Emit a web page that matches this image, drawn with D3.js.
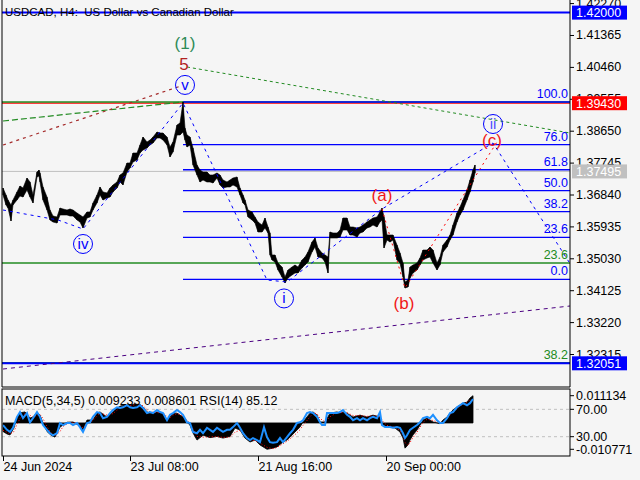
<!DOCTYPE html>
<html><head><meta charset="utf-8">
<script src="https://cdn.jsdelivr.net/npm/d3@7"></script>
<style>
html,body{margin:0;padding:0;background:#f5f5f5;}
svg{display:block;}
.pre{white-space:pre;}
</style></head><body>
<svg id="c" width="640" height="480"></svg>
<script>
// ---------------- DATA ----------------
const title = "USDCAD, H4:  US Dollar vs Canadian Dollar";
const barIdx = [0,3,5,8,10,14,17,20,24,27,30,34,36,37,40,44,47,50,54,57,60,64,67,70,74,77,80,84,87,90,94,97,100,104,107,110,114,117,120,124,127,130,134,137,140,144,147,150,154,157,160,164,167,170,174,177,180,182,184,187,190,194,197,200,204,207,210,214,217,220,224,227,230,234,237,240,242,245,249,252,255,259,262,265,267,269,272,275,279,282,285,289,292,295,299,302,305,309,312,315,319,322,325,327,330,334,337,340,344,347,350,354,357,360,364,367,370,374,377,379,381,384,387,390,394,397,400,402,405,407,410,414,417,420,424,427,430,434,437,440,444,447,450,454,457,460,464,467,470,472];
const highs = [1.37024,1.36826,1.36684,1.36542,1.36684,1.36911,1.37081,1.37024,1.37308,1.37195,1.36826,1.37478,1.37535,1.37450,1.37053,1.36769,1.36400,1.36230,1.36202,1.36457,1.36429,1.36400,1.36429,1.36400,1.36315,1.36258,1.36202,1.36344,1.36344,1.36599,1.36826,1.37053,1.36911,1.36883,1.37024,1.37110,1.37195,1.37393,1.37450,1.37734,1.37734,1.38017,1.38017,1.38244,1.38471,1.38329,1.38386,1.38471,1.38613,1.38585,1.38585,1.38471,1.38188,1.38329,1.38812,1.38868,1.39464,1.38727,1.38528,1.38471,1.38159,1.37677,1.37535,1.37478,1.37478,1.37393,1.37393,1.37450,1.37393,1.37251,1.37195,1.37251,1.37308,1.37337,1.37024,1.36826,1.36684,1.36400,1.36344,1.36202,1.36060,1.35975,1.36173,1.35918,1.35748,1.35124,1.35124,1.34897,1.34783,1.34500,1.34698,1.34783,1.34840,1.34783,1.34982,1.35067,1.35209,1.35492,1.35606,1.35322,1.35180,1.35124,1.35067,1.35776,1.35748,1.35748,1.35833,1.36173,1.36173,1.35918,1.35918,1.35890,1.35918,1.35975,1.36060,1.36117,1.36173,1.36202,1.36344,1.36457,1.36202,1.35691,1.35691,1.35691,1.35407,1.35180,1.34897,1.34358,1.34414,1.34783,1.34840,1.34897,1.35039,1.35265,1.35265,1.35351,1.35265,1.34897,1.35067,1.35407,1.35549,1.35691,1.35975,1.36315,1.36485,1.36684,1.36968,1.37251,1.37535,1.37677];
const lows = [1.36826,1.36542,1.36457,1.36088,1.36542,1.36684,1.36797,1.36769,1.36968,1.36769,1.36599,1.37337,1.37365,1.37195,1.36684,1.36400,1.36117,1.36060,1.36031,1.36258,1.36258,1.36258,1.36230,1.36230,1.36117,1.36060,1.35890,1.36173,1.36202,1.36400,1.36599,1.36826,1.36684,1.36741,1.36769,1.36911,1.37024,1.37195,1.37110,1.37478,1.37592,1.37762,1.37819,1.38017,1.38102,1.38159,1.38244,1.38301,1.38443,1.38443,1.38386,1.38244,1.37904,1.38046,1.38528,1.38528,1.38613,1.38386,1.38188,1.38244,1.37677,1.37393,1.37195,1.37251,1.37195,1.37195,1.37166,1.37308,1.37110,1.37024,1.37053,1.37053,1.37110,1.37053,1.36826,1.36599,1.36542,1.36202,1.36117,1.36031,1.35776,1.35776,1.35890,1.35748,1.35124,1.34982,1.34925,1.34698,1.34500,1.34329,1.34471,1.34556,1.34613,1.34613,1.34755,1.34840,1.34925,1.35209,1.35351,1.35067,1.35039,1.34925,1.34613,1.35606,1.35606,1.35606,1.35634,1.35833,1.35833,1.35691,1.35691,1.35634,1.35748,1.35776,1.35890,1.35918,1.35975,1.35918,1.36060,1.36117,1.35322,1.35549,1.35492,1.35549,1.34982,1.34897,1.34500,1.34187,1.34216,1.34471,1.34613,1.34698,1.34840,1.34982,1.35039,1.35067,1.34897,1.34698,1.34840,1.35209,1.35351,1.35549,1.35691,1.36060,1.36258,1.36400,1.36684,1.36911,1.37195,1.37450];

const priceTicks = [1.42270,1.41365,1.40460,1.39555,1.38650,1.37745,1.36840,1.35935,1.35030,1.34125,1.33220,1.32315];
const dateTickIdx = [0,127,255,383];
const dateTickLabels = ["24 Jun 2024","23 Jul 08:00","21 Aug 16:00","20 Sep 00:00"];

// horizontal price levels with axis labels
const levelPrices = [1.42000, 1.39430, 1.37495, 1.32051];
const levelColors = ["#0000ff", "#ff0000", "#c0c0c0", "#0000ff"];

// Fibonacci (blue) from wave v high to wave i low
const fibLevels = [0, 23.6, 38.2, 50, 61.8, 76, 100];
const fibLabels = ["0.0","23.6","38.2","50.0","61.8","76.0","100.0"];
const fibStartIdx = 180, fibHigh = 1.39464, fibLow = 1.34434;
// Fibonacci (green), larger degree
const fib2Levels = [0, 23.6, 38.2];
const fib2Labels = ["", "23.6", "38.2"];
const fib2Top = 1.39464, fib2Bottom = 1.20112;

// wave lines (bar index, price)
const blueWaveIdx = [0, 55, 80, 180, 264, 284, 379, 490, 566];
const blueWavePrice = [1.36400, 1.36117, 1.35861, 1.39436, 1.34414, 1.34358, 1.36429, 1.38301, 1.34925];
const redWaveIdx = [379, 402, 494];
const redWavePrice = [1.36429, 1.34187, 1.38330];
const brownLineIdx = [0, 178], brownLinePrice = [1.38244, 1.39918];
const greenDashIdx = [0, 180], greenDashPrice = [1.38925, 1.39464];
const greenDotIdx = [184, 567], greenDotPrice = [1.40457, 1.38585];
const purpleIdx = [0, 567], purplePrice = [1.31889, 1.33677];

// wave labels
const circLabels = ["v", "iv", "i", "ii"];
const circIdx = [182, 80, 281, 490];
const circPrice = [1.39948, 1.35436, 1.33891, 1.38840];
const redLabels = ["(a)", "(b)", "(c)"];
const redIdx = [379, 401, 489];
const redPrice = [1.36826, 1.33749, 1.38386];

// MACD / RSI sub window
const macdTitle = "MACD(5,34,5) 0.009233 0.008601 RSI(14) 85.12";
const macdIdx = [0,4,7,11,14,18,22,27,30,34,37,40,44,48,52,57,60,64,70,75,80,84,90,94,97,104,110,114,118,125,132,137,140,144,147,154,160,164,167,170,174,177,180,184,187,190,194,200,207,214,220,227,232,237,242,247,252,257,264,270,274,280,284,287,292,297,300,307,310,314,317,322,327,334,337,340,344,350,357,364,370,377,380,384,392,397,400,402,405,407,410,414,417,420,424,430,437,440,444,447,450,454,457,460,464,467,470];
const macdHist = [-3.5,-4.5,-4.9,-2.0,2.4,4.2,4.5,2.0,2.4,4.4,3.2,0,-3.5,-5.0,-5.8,-1.7,-0.9,0.3,0.4,-0.8,-2.9,1.2,1.2,4.0,4.5,2.4,4.5,6.1,7.0,7.3,7.7,7.5,6.5,4.5,4.0,4.5,4.0,1.2,2.4,4.0,4.0,3.2,2.4,0.3,-0.9,-4.1,-7.0,-5.0,-6.0,-5.5,-6.2,-5.5,-2.1,-2.9,-6.2,-7.8,-7.0,-9.0,-10.77,-10.3,-9.8,-7.8,-7.0,-5.8,-3.7,-1.7,0.4,4.0,4.5,3.2,0.4,0.4,4.0,4.5,4.0,4.5,4.0,2.4,3.2,2.4,3.2,2.4,-0.9,-1.5,-2.1,-3.7,-6.2,-10.3,-9.0,-7.0,-4.9,-2.9,-0.9,1.2,2.0,0.4,-0.3,1.2,2.4,4.0,5.3,6.5,7.3,8.1,8.5,10.2,11.13].map(v => v / 1000);
const macdSignal = [-3.0,-3.8,-4.5,-3.5,-0.5,2.5,3.8,3.2,2.3,3.2,3.5,1.8,-1.5,-4.0,-5.3,-3.5,-1.5,-0.4,0.2,-0.3,-2.0,-0.5,1.0,2.8,4.0,3.2,3.8,5.2,6.4,7.0,7.4,7.5,7.0,5.5,4.5,4.2,4.2,2.5,2.0,3.2,3.8,3.5,2.8,1.2,-0.2,-2.5,-5.5,-5.8,-5.7,-5.6,-5.9,-5.8,-3.8,-3.0,-4.8,-7.0,-7.2,-8.2,-10.0,-10.5,-10.0,-8.5,-7.5,-6.5,-4.8,-2.8,-1.0,2.5,4.0,3.8,1.8,0.5,2.5,4.2,4.2,4.3,4.2,3.0,3.0,2.7,2.9,2.6,0.6,-1.0,-1.8,-3.0,-5.0,-8.0,-9.2,-8.0,-6.0,-3.8,-1.8,0.2,1.5,1.0,0.1,0.5,1.8,3.2,4.6,5.9,6.9,7.7,8.3,9.5,8.6].map(v => v / 1000);
const rsiIdx = [0,4,7,10,14,17,20,24,27,30,34,37,40,44,47,50,54,57,60,64,67,70,74,77,80,84,87,90,94,97,100,104,107,110,114,117,120,124,127,130,134,137,140,144,147,150,154,157,160,164,167,170,174,177,180,184,187,190,194,197,200,204,207,210,214,217,220,224,227,230,234,237,240,244,247,250,254,257,261,264,267,270,274,277,280,284,287,290,294,297,300,304,307,310,314,317,319,322,324,327,330,334,337,340,344,347,350,354,357,360,364,367,370,374,377,379,382,387,390,394,397,400,402,404,407,410,414,417,420,424,427,430,434,437,440,444,447,450,454,457,460,464,467,470];
const rsiValues = [47,40,37,43,59,66,57,64.5,51,57,66,59,47,40,35,32,35,50,47,50,50,47,50,44,37,50,51,59,66,64.5,57,59,64.5,69,73,72,73,76,73,72,73,76,72,64.5,66,64.5,69,66,64.5,54,62,64.5,69,66,62,51,50,37,35,40,35,43,40,37,43,40,37,40,40,44,50,43,35,28,25,28,25,22,44,29.5,22,21,22,28,22,29.5,35,40,50,51,54,64.5,66,64.5,59,51,47,47,64.5,64.5,64.5,64.5,66,69,62,59,54,57,54,57,54,57,59,57,66,47,44,44,43,44,43,35,28,32,40,43,47,51,57,59,57,62,54,50,50,57,64.5,66,73,76,79,76,79,85.12];
const macdAxisTicks = [0.011134, -0.010771];
const macdAxisLabels = ["0.011134", "-0.010771"];
const rsiAxisTicks = [70, 30];
const rsiAxisLabels = ["70.00", "30.00"];

// ---------------- DRAW ----------------
const svg = d3.select("#c");
const FONT = "'Liberation Sans', Arial, sans-serif";
const L = 2, R = 570, B = 387;
const x = d3.scaleLinear().domain([-1, 567]).range([L, R]);
const y = d3.scaleLinear().domain([1.31379, 1.42301]).range([B, 2]);

svg.append("rect").attr("width", 640).attr("height", 480).attr("fill", "#f5f5f5");

const defs = svg.append("defs");
defs.append("clipPath").attr("id", "mainclip").append("rect")
  .attr("x", L).attr("y", 0).attr("width", R - L).attr("height", B);
defs.append("clipPath").attr("id", "subclip").append("rect")
  .attr("x", L).attr("y", 389).attr("width", R - L).attr("height", 67);

const main = svg.append("g").attr("clip-path", "url(#mainclip)");
const hline = (g, p, color, w, x0) => g.append("line")
  .attr("x1", x0 === undefined ? L : x0).attr("x2", R)
  .attr("y1", y(p)).attr("y2", y(p))
  .attr("stroke", color).attr("stroke-width", w);

hline(main, levelPrices[2], levelColors[2], 1);
hline(main, levelPrices[1], levelColors[1], 1.3);
fib2Levels.forEach(l => hline(main, fib2Top - (fib2Top - fib2Bottom) * l / 100, "#228b22", 1.3));
hline(main, levelPrices[0], levelColors[0], 2);
hline(main, levelPrices[3], levelColors[3], 2);
fibLevels.forEach(l => hline(main, fibLow + (fibHigh - fibLow) * l / 100, "#0000ff", 1.3, x(fibStartIdx)));

const lineGen = d3.line().x(d => x(d[0])).y(d => y(d[1]));
const zip = (a, b) => a.map((v, i) => [v, b[i]]);
main.append("path").attr("d", lineGen(zip(greenDashIdx, greenDashPrice)))
  .attr("fill", "none").attr("stroke", "#228b22").attr("stroke-width", 1.2).attr("stroke-dasharray", "6,3");
main.append("path").attr("d", lineGen(zip(brownLineIdx, brownLinePrice)))
  .attr("fill", "none").attr("stroke", "#a52a2a").attr("stroke-width", 1.2).attr("stroke-dasharray", "3,4");
main.append("path").attr("d", lineGen(zip(greenDotIdx, greenDotPrice)))
  .attr("fill", "none").attr("stroke", "#228b22").attr("stroke-width", 1).attr("stroke-dasharray", "3,3");
main.append("path").attr("d", lineGen(zip(purpleIdx, purplePrice)))
  .attr("fill", "none").attr("stroke", "#4b0082").attr("stroke-width", 1).attr("stroke-dasharray", "4,4");

// price bars as high-low band
const bars = barIdx.map((b, i) => ({ b, h: highs[i], l: lows[i] }));
main.append("path")
  .attr("d", d3.area().x(d => x(d.b)).y0(d => y(d.l)).y1(d => y(d.h))(bars))
  .attr("fill", "#000").attr("stroke", "#000").attr("stroke-width", 0.6);
main.selectAll("line.bar").data(bars).join("line").attr("class", "bar")
  .attr("x1", d => x(d.b)).attr("x2", d => x(d.b))
  .attr("y1", d => y(d.h)).attr("y2", d => y(d.l))
  .attr("stroke", "#000").attr("stroke-width", 1);

main.append("path").attr("d", lineGen(zip(blueWaveIdx, blueWavePrice)))
  .attr("fill", "none").attr("stroke", "#0000ff").attr("stroke-width", 1).attr("stroke-dasharray", "3,4");
main.append("path").attr("d", lineGen(zip(redWaveIdx, redWavePrice)))
  .attr("fill", "none").attr("stroke", "#ff0000").attr("stroke-width", 1).attr("stroke-dasharray", "2,4");

fibLevels.forEach((l, i) => {
  main.append("text").attr("x", 568).attr("y", y(fibLow + (fibHigh - fibLow) * l / 100) - 4)
    .attr("text-anchor", "end").attr("font-family", FONT).attr("font-size", 12.5)
    .attr("fill", "#0000ff").text(fibLabels[i]);
});
fib2Levels.forEach((l, i) => {
  if (!fib2Labels[i]) return;
  main.append("text").attr("x", 568).attr("y", y(fib2Top - (fib2Top - fib2Bottom) * l / 100) - 4)
    .attr("text-anchor", "end").attr("font-family", FONT).attr("font-size", 12.5)
    .attr("fill", "#228b22").text(fib2Labels[i]);
});

main.append("text").attr("x", x(182)).attr("y", y(1.40970)).attr("text-anchor", "middle")
  .attr("font-family", FONT).attr("font-size", 17).attr("fill", "#2e8b57").text("(1)");
main.append("text").attr("x", x(181)).attr("y", y(1.40380)).attr("text-anchor", "middle")
  .attr("font-family", FONT).attr("font-size", 17).attr("fill", "#b22222").text("5");
circLabels.forEach((t, i) => {
  const cx = x(circIdx[i]), cy = y(circPrice[i]);
  main.append("circle").attr("cx", cx).attr("cy", cy).attr("r", 9.5)
    .attr("fill", "none").attr("stroke", "#0000ff").attr("stroke-width", 1);
  main.append("text").attr("x", cx).attr("y", cy + 5).attr("text-anchor", "middle")
    .attr("font-family", FONT).attr("font-size", 15).attr("fill", i === 3 ? "#5050ff" : "#0000ff").text(t);
});
redLabels.forEach((t, i) => {
  main.append("text").attr("x", x(redIdx[i])).attr("y", y(redPrice[i]) + 6).attr("text-anchor", "middle")
    .attr("font-family", FONT).attr("font-size", 17).attr("fill", "#f01818").text(t);
});

svg.append("text").attr("class", "pre").attr("x", 5).attr("y", 16).attr("font-family", FONT).attr("font-size", 11.5)
  .attr("fill", "#000").text(title);

svg.append("line").attr("x1", L).attr("x2", L).attr("y1", 0).attr("y2", B).attr("stroke", "#000");
svg.append("line").attr("x1", R).attr("x2", R).attr("y1", 0).attr("y2", B).attr("stroke", "#000");
svg.append("line").attr("x1", L).attr("x2", R).attr("y1", B).attr("y2", B).attr("stroke", "#000");

const yAxis = d3.axisRight(y).tickValues(priceTicks).tickSize(4).tickFormat(d3.format(".5f"));
const ya = svg.append("g").attr("transform", `translate(${R},0)`).call(yAxis);
ya.select(".domain").remove();
ya.selectAll("text").attr("font-family", FONT).attr("font-size", 12.5).attr("fill", "#000").attr("x", 6);
ya.selectAll("line").attr("stroke", "#000");

levelPrices.forEach((p, i) => {
  const cy = y(p);
  svg.append("rect").attr("x", 572).attr("y", cy - 7).attr("width", 55).attr("height", 14).attr("fill", levelColors[i]);
  svg.append("text").attr("x", 576).attr("y", cy + 4.5).attr("font-family", FONT).attr("font-size", 12.5)
    .attr("fill", "#fff").text(d3.format(".5f")(p));
});

// ---------------- SUB WINDOW ----------------
const sT = 389, sB = 456;
const my = d3.scaleLinear().domain([-0.010771, 0.011134]).range([449.3, 395.7]);
const ry = d3.scaleLinear().domain([0, 100]).range([457.2, 388.8]);
const sub = svg.append("g").attr("clip-path", "url(#subclip)");
rsiAxisTicks.forEach(v => sub.append("line").attr("x1", L).attr("x2", R).attr("y1", ry(v)).attr("y2", ry(v))
  .attr("stroke", "#c0c0c0").attr("stroke-dasharray", "3,3"));
const md = macdIdx.map((b, i) => ({ b, v: macdHist[i], s: macdSignal[i] }));
sub.append("path").attr("d", d3.area().x(d => x(d.b)).y0(my(0)).y1(d => my(d.v))(md))
  .attr("fill", "#000").attr("stroke", "#000").attr("stroke-width", 0.8);
sub.append("path").attr("d", d3.line().x(d => x(d.b)).y(d => my(d.s))(md))
  .attr("fill", "none").attr("stroke", "#ff0000").attr("stroke-width", 1).attr("stroke-dasharray", "1,2");
sub.append("path").attr("d", d3.line().x(d => x(d[0])).y(d => ry(d[1]))(zip(rsiIdx, rsiValues)))
  .attr("fill", "none").attr("stroke", "#1e90ff").attr("stroke-width", 2);
svg.append("rect").attr("x", L).attr("y", sT).attr("width", R - L).attr("height", sB - sT)
  .attr("fill", "none").attr("stroke", "#000");
svg.append("text").attr("x", 5).attr("y", 405).attr("font-family", FONT).attr("font-size", 12.5)
  .attr("fill", "#000").text(macdTitle);
macdAxisTicks.forEach((v, i) => {
  svg.append("line").attr("x1", R).attr("x2", R + 4).attr("y1", my(v)).attr("y2", my(v)).attr("stroke", "#000");
  svg.append("text").attr("x", 576).attr("y", my(v) + 4.5).attr("font-family", FONT).attr("font-size", 12.5).text(macdAxisLabels[i]);
});
rsiAxisTicks.forEach((v, i) => {
  svg.append("line").attr("x1", R).attr("x2", R + 4).attr("y1", ry(v)).attr("y2", ry(v)).attr("stroke", "#000");
  svg.append("text").attr("x", 576).attr("y", ry(v) + 4.5).attr("font-family", FONT).attr("font-size", 12.5).text(rsiAxisLabels[i]);
});

const xa = svg.append("g").attr("transform", `translate(0,${sB})`)
  .call(d3.axisBottom(x).tickValues(dateTickIdx).tickSize(5).tickFormat((d, i) => dateTickLabels[i]));
xa.select(".domain").remove();
xa.selectAll("line").attr("stroke", "#000");
xa.selectAll("text").attr("font-family", FONT).attr("font-size", 12.5).attr("fill", "#000")
  .attr("text-anchor", "start").attr("x", 0).attr("dy", "0.9em").attr("y", 4);
</script>
</body></html>
